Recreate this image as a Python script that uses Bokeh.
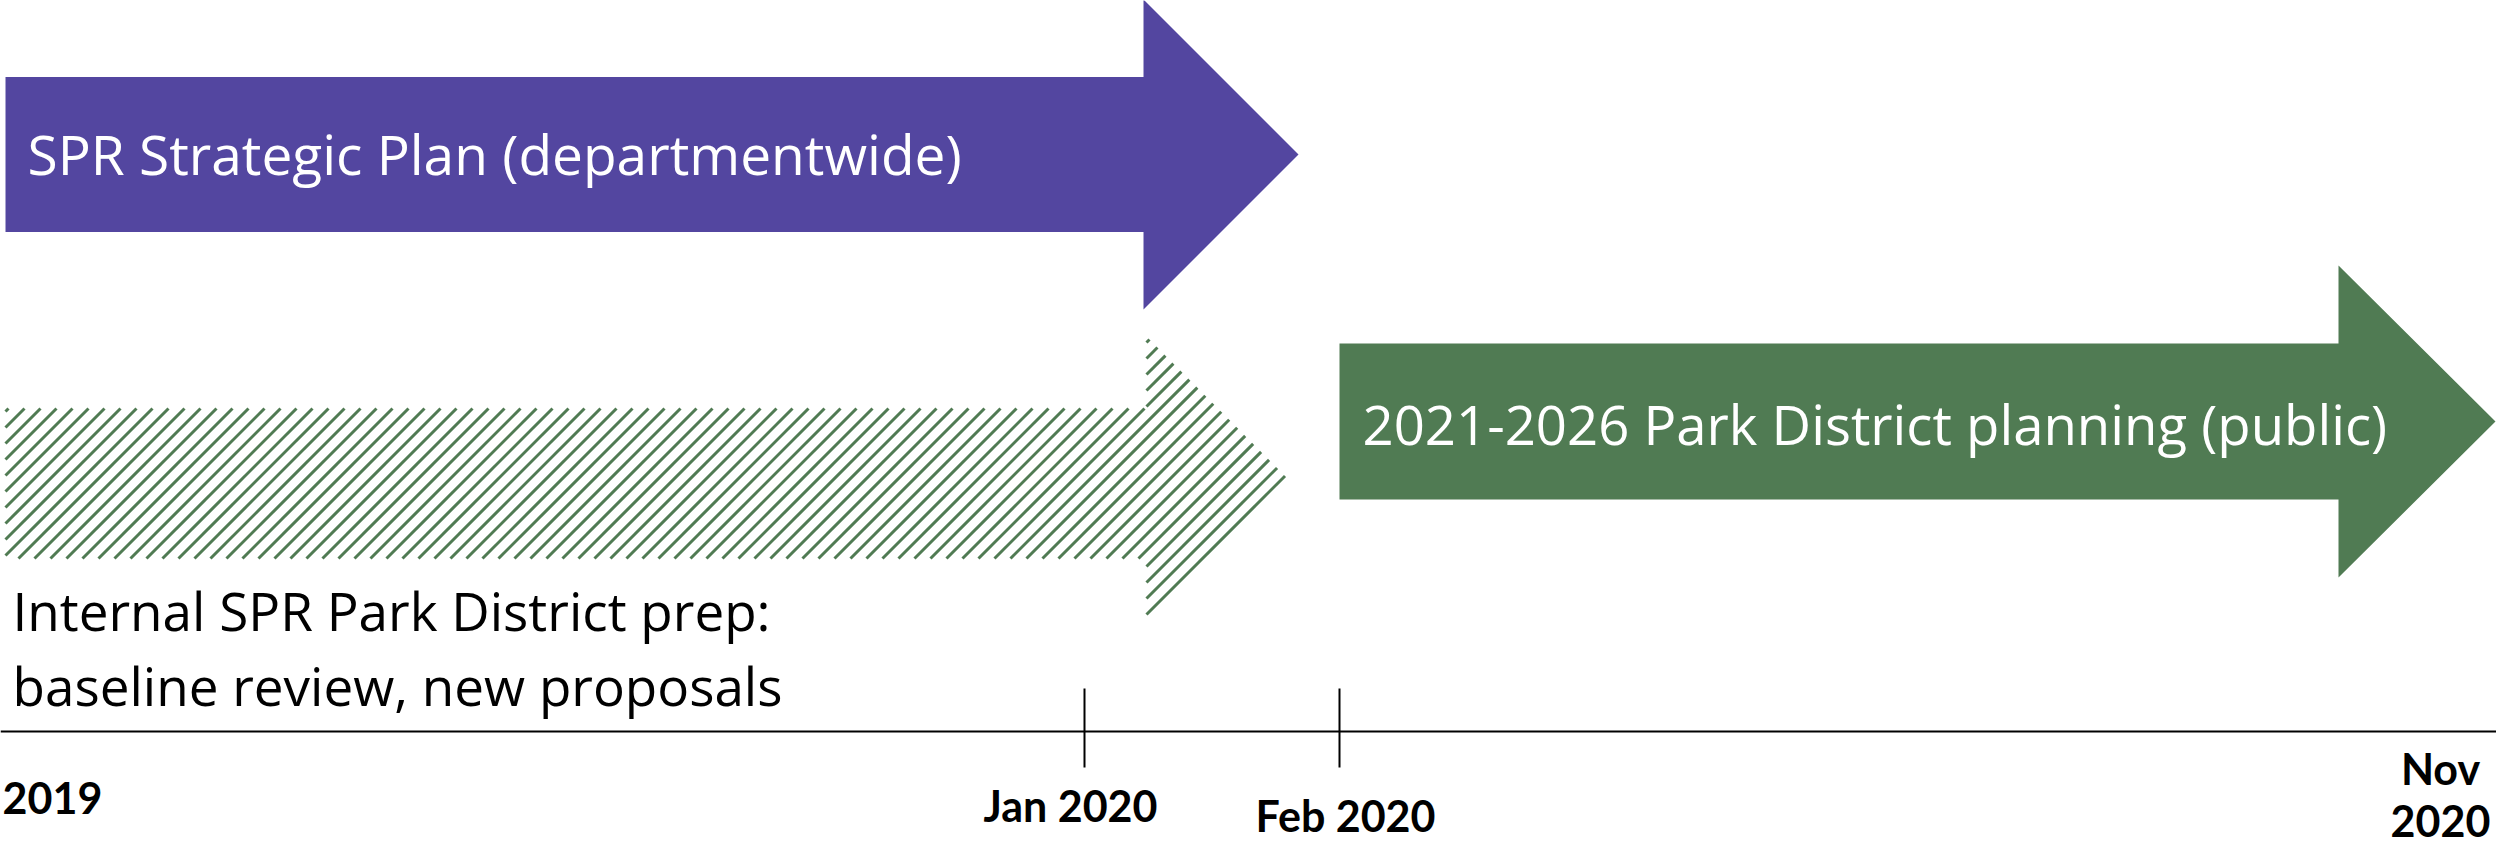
from bokeh.plotting import figure
from bokeh.models import Range1d
from bokeh.core.properties import value
from bokeh.embed import file_html
from bokeh.resources import INLINE

# ---- data: schematic timeline (positions in timeline units) ----
phase_labels = [
    "SPR Strategic Plan (departmentwide)",
    "Internal SPR Park District prep:\nbaseline review, new proposals",
    "2021-2026 Park District planning (public)",
]
phase_start = [5, 5, 1339]
phase_head = [1143, 1146, 2338]
phase_end = [1298, 1292, 2495]
phase_lane = [154, 483, 421]
phase_shaft_half = [77.5, 75, 78]
phase_head_half = [155, 147, 156]

milestone_labels = ["2019", "Jan 2020", "Feb 2020", "Nov\n2020"]
milestone_pos = [30, 1084, 1339, 2470]
milestone_tick = [False, True, True, False]

PURPLE = "#5346a0"
GREEN = "#507b53"

W, H = 2496, 852
p = figure(width=W, height=H, output_backend="svg", toolbar_location=None,
           x_range=Range1d(0, W), y_range=Range1d(H, 0),
           min_border=0, outline_line_color=None, background_fill_color="white")
p.axis.visible = False
p.xgrid.visible = False
p.ygrid.visible = False


def arrow(i):
    x0, xb, x1 = phase_start[i], phase_head[i], phase_end[i]
    yc, sh, hh = phase_lane[i], phase_shaft_half[i], phase_head_half[i]
    xs = [x0, xb, xb, x1, xb, xb, x0]
    ys = [yc - sh, yc - sh, yc - hh, yc, yc + hh, yc + sh, yc + sh]
    return xs, ys


# solid arrows
xs0, ys0 = arrow(0)
xs2, ys2 = arrow(2)
p.patches(xs=[xs0, xs2], ys=[ys0, ys2], fill_color=[PURPLE, GREEN], line_color=None)

# hatched arrow: 45-degree stripes clipped to the arrow outline
xs1, ys1 = arrow(1)
edges = list(zip(zip(xs1, ys1), zip(xs1[1:] + xs1[:1], ys1[1:] + ys1[:1])))
STEP = 16
hx0, hy0, hx1, hy1 = [], [], [], []
cmin = int(min(a + b for a, b in zip(xs1, ys1)))
cmax = int(max(a + b for a, b in zip(xs1, ys1))) + 1
c = (cmin // STEP) * STEP
while c <= cmax:
    hits = []
    for (ax, ay), (bx, by) in edges:
        fa = ax + ay - c
        fb = bx + by - c
        if (fa < 0) != (fb < 0):
            t = fa / (fa - fb)
            hits.append(ax + t * (bx - ax))
    hits.sort()
    for k in range(0, len(hits) - 1, 2):
        hx0.append(hits[k]); hy0.append(c - hits[k])
        hx1.append(hits[k + 1]); hy1.append(c - hits[k + 1])
    c += STEP
p.segment(x0=hx0, y0=hy0, x1=hx1, y1=hy1, line_color=GREEN, line_width=3)

# phase labels (baseline offsets compensate Bokeh's text box placement)
OFF = 22
p.text(x=[27], y=[175 - OFF], text=[phase_labels[0]], text_color="white",
       text_font=value("Open Sans"), text_font_size="55px", text_baseline="alphabetic")
p.text(x=[1362], y=[445 - OFF], text=[phase_labels[2]], text_color="white",
       text_font=value("Open Sans"), text_font_size="54.5px", text_baseline="alphabetic")
lines = phase_labels[1].split("\n")
p.text(x=[12, 12], y=[632 - OFF, 707 - OFF], text=lines, text_color="black",
       text_font=value("Open Sans"), text_font_size="53px", text_baseline="alphabetic")

# timeline axis
p.segment(x0=[0], y0=[731], x1=[W], y1=[731], line_color="black", line_width=2)
tx = [x for x, t in zip(milestone_pos, milestone_tick) if t]
p.segment(x0=tx, y0=[688] * len(tx), x1=tx, y1=[767] * len(tx), line_color="black", line_width=2)

# labels nudged so edge labels stay fully inside the picture
LOFF = 18
label_dx = [22, -14, 6, -30]
label_y = [815, 823, 833, 786]
label_gap = 52
for lab, lx, dx, ly in zip(milestone_labels, milestone_pos, label_dx, label_y):
    parts = lab.split("\n")
    p.text(x=[lx + dx] * len(parts), y=[ly - LOFF + label_gap * k for k in range(len(parts))], text=parts,
           text_color="black", text_font=value("Lato"),
           text_font_style="bold", text_font_size="43px", text_align="center",
           text_baseline="alphabetic")

open("out.html", "w").write(file_html(p, INLINE))
